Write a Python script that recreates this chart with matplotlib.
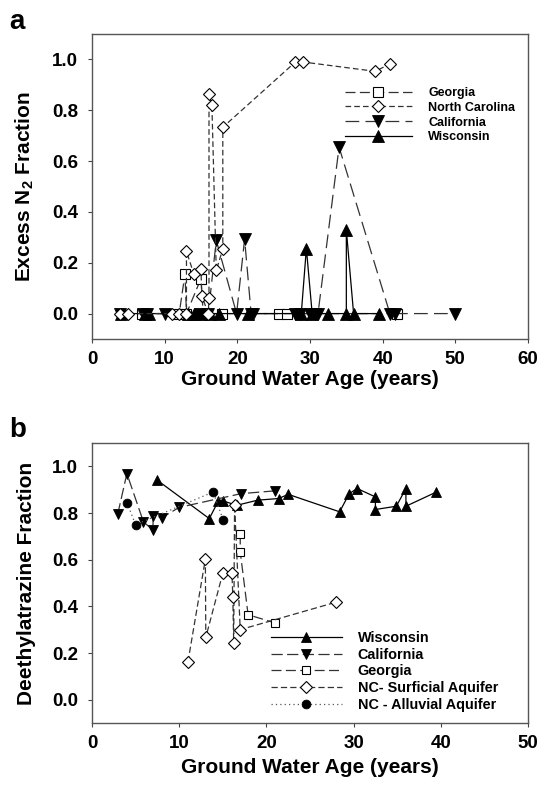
import matplotlib
matplotlib.use('Agg')
import matplotlib.pyplot as plt

plt.rcParams['font.family'] = ['Liberation Sans', 'DejaVu Sans']
plt.rcParams['font.weight'] = 'bold'
plt.rcParams['mathtext.fontset'] = 'custom'
plt.rcParams['mathtext.rm'] = 'Liberation Sans:bold'
plt.rcParams['mathtext.it'] = 'Liberation Sans:bold'
plt.rcParams['mathtext.bf'] = 'Liberation Sans:bold'

# ---------------- Panel a data (Excess N2 fraction) ----------------
ga_a_x = [6.9, 12.0, 12.8, 13.0, 15.0, 15.3, 17.9, 25.8, 26.8, 42.0]
ga_a_y = [0, 0, 0.157, 0, 0.138, 0, 0, 0, 0, 0]

nc_a_x = [3.9, 4.9, 11.0, 12.0, 13.0, 13.0, 14.0, 15.0, 15.1, 16.0, 16.1, 16.1,
          16.5, 17.1, 18.0, 18.0, 28.0, 29.0, 39.0, 41.0]
nc_a_y = [0, 0, 0, 0, 0, 0.245, 0.157, 0.175, 0.07, 0, 0.063, 0.862,
          0.82, 0.17, 0.254, 0.733, 0.99, 0.99, 0.953, 0.983]

ca_a_x = [3.9, 7.0, 7.6, 10.0, 14.9, 16.0, 17.1, 19.9, 21.0, 21.9, 22.2, 28.0,
          28.6, 30.0, 30.7, 31.1, 34.0, 41.0, 41.7, 50.0]
ca_a_y = [0, 0, 0, 0, 0, 0, 0.288, 0, 0.293, 0, 0, 0,
          0, 0, 0, 0, 0.655, 0, 0, 0]

wi_a_x = [4.0, 7.3, 7.8, 13.2, 14.0, 15.0, 16.2, 17.5, 21.5, 28.8, 29.5, 30.3,
          32.5, 35.0, 35.0, 36.0, 39.5]
wi_a_y = [0, 0, 0, 0, 0, 0, 0, 0, 0, 0, 0.256, 0,
          0, 0, 0.329, 0, 0]

# ---------------- Panel b data (Deethylatrazine fraction) ----------------
wi_b_x = [7.5, 13.45, 14.5, 15.0, 16.6, 19.0, 21.4, 22.5, 28.4, 29.5, 30.4,
          32.5, 32.5, 34.9, 36.0, 36.0, 39.5]
wi_b_y = [0.94, 0.776, 0.852, 0.852, 0.833, 0.855, 0.862, 0.88, 0.805, 0.883, 0.905,
          0.869, 0.815, 0.829, 0.905, 0.829, 0.89]

ca_b_x = [2.95, 4.0, 5.9, 7.0, 7.0, 8.0, 10.0, 17.1, 21.0]
ca_b_y = [0.795, 0.969, 0.762, 0.727, 0.787, 0.78, 0.824, 0.883, 0.895]

ga_b_x = [17.0, 17.0, 17.9, 21.0]
ga_b_y = [0.708, 0.634, 0.364, 0.329]

ncs_b_x = [11.0, 13.0, 13.05, 15.0, 16.05, 16.15, 16.25, 16.35, 17.0, 28.0]
ncs_b_y = [0.161, 0.602, 0.267, 0.542, 0.545, 0.438, 0.243, 0.836, 0.30, 0.418]

nca_b_x = [4.0, 5.0, 13.9, 15.05]
nca_b_y = [0.845, 0.75, 0.89, 0.77]

xticks_a = [0, 10, 20, 30, 40, 50, 60]
xticks_b = [0, 10, 20, 30, 40, 50]
yticks = [0.0, 0.2, 0.4, 0.6, 0.8, 1.0]

W, H = 541, 786
fig = plt.figure(figsize=(W / 100, H / 100), dpi=100)


def px_axes(l, t, r, b):
    return fig.add_axes([l / W, 1 - b / H, (r - l) / W, (b - t) / H])


axa = px_axes(92, 34, 528, 339)
axb = px_axes(92, 443, 528, 723)

LW = 0.9
EC = 'black'

# Panel a
axa.plot(ga_a_x, ga_a_y, color='#333333', lw=LW, dashes=(8, 3.5), marker='s', ms=6.5,
         mfc='white', mec=EC, mew=0.8, label='Georgia', zorder=3)
axa.plot(nc_a_x, nc_a_y, color='#333333', lw=LW, dashes=(4.5, 2.5), marker='D', ms=6.6,
         mfc='white', mec=EC, mew=0.8, label='North Carolina', zorder=4)
axa.plot(ca_a_x, ca_a_y, color='#333333', lw=LW, dashes=(11, 5), marker='v', ms=8,
         mfc='black', mec=EC, mew=0.6, label='California', zorder=3)
axa.plot(wi_a_x, wi_a_y, color='black', lw=LW, marker='^', ms=8,
         mfc='black', mec=EC, mew=0.6, label='Wisconsin', zorder=3)

# Panel b
axb.plot(wi_b_x, wi_b_y, color='black', lw=LW, marker='^', ms=7.5,
         mfc='black', mec=EC, mew=0.6, label='Wisconsin', zorder=3)
axb.plot(ca_b_x, ca_b_y, color='#333333', lw=LW, dashes=(9, 3.5), marker='v', ms=7.5,
         mfc='black', mec=EC, mew=0.6, label='California', zorder=3)
axb.plot(ga_b_x, ga_b_y, color='#333333', lw=LW, dashes=(8, 3.5), marker='s', ms=6.3,
         mfc='white', mec=EC, mew=0.8, label='Georgia', zorder=3)
axb.plot(ncs_b_x, ncs_b_y, color='#333333', lw=LW, dashes=(5, 2.5), marker='D', ms=6.2,
         mfc='white', mec=EC, mew=0.8, label='NC- Surficial Aquifer', zorder=4)
axb.plot(nca_b_x, nca_b_y, color='#555555', lw=LW, dashes=(1, 2.5), marker='o', ms=6.3,
         mfc='black', mec=EC, mew=0.6, label='NC - Alluvial Aquifer', zorder=3)

for ax, xt, xmax in ((axa, xticks_a, 60), (axb, xticks_b, 50)):
    ax.set_xlim(0, xmax)
    ax.set_ylim(-0.1, 1.1)
    ax.set_xticks(xt)
    ax.set_yticks(yticks)
    ax.set_yticklabels([f'{v:.1f}' for v in yticks])
    ax.tick_params(direction='out', length=3, width=0.8, labelsize=13.5, color='#444444')
    ax.tick_params(axis='x', pad=6)
    ax.tick_params(axis='y', pad=7)
    for lab in ax.get_xticklabels() + ax.get_yticklabels():
        lab.set_fontweight('bold')
    for sp in ax.spines.values():
        sp.set_color('#555555')
        sp.set_linewidth(1.0)
    ax.set_xlabel('Ground Water Age (years)', fontsize=15, fontweight='bold')

axa.set_ylabel('Excess N$_2$ Fraction', fontsize=15, fontweight='bold')
axb.set_ylabel('Deethylatrazine Fraction', fontsize=15, fontweight='bold')

axa.xaxis.set_label_coords(0.5, -31 / 305)
axb.xaxis.set_label_coords(0.5, -35 / 280)
axa.yaxis.set_label_coords((36 - 92) / 436, 0.5)
axb.yaxis.set_label_coords((36 - 92) / 436, 0.5)

lega = axa.legend(loc='upper left', bbox_to_anchor=(344.5 / W, 1 - 87 / H),
                  bbox_transform=fig.transFigure, frameon=False, fontsize=9,
                  handlelength=5.4, handletextpad=1.3, labelspacing=0.22,
                  borderpad=0, borderaxespad=0, numpoints=1)
legb = axb.legend(loc='upper left', bbox_to_anchor=(271 / W, 1 - 631 / H),
                  bbox_transform=fig.transFigure, frameon=False, fontsize=10.4,
                  handlelength=4.9, handletextpad=1.1, labelspacing=0.19,
                  borderpad=0, borderaxespad=0, numpoints=1)
for leg in (lega, legb):
    for t in leg.get_texts():
        t.set_fontweight('bold')

fig.text(9 / W, 1 - 29 / H, 'a', fontsize=20, fontweight='bold', va='baseline', ha='left')
fig.text(9 / W, 1 - 437 / H, 'b', fontsize=20, fontweight='bold', va='baseline', ha='left')

fig.savefig('out.png', dpi=100)
